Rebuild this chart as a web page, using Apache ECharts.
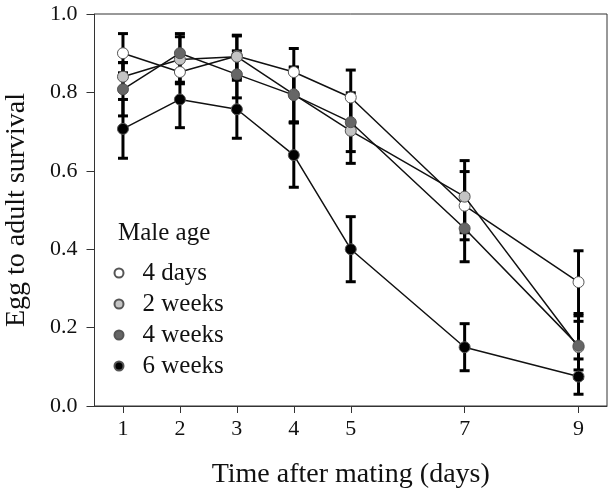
<!DOCTYPE html>
<html>
<head>
<meta charset="utf-8">
<script src="https://cdn.jsdelivr.net/npm/echarts@6/dist/echarts.min.js"></script>
<style>html,body{margin:0;padding:0;background:#fff}#c{width:614px;height:496px}</style>
</head>
<body>
<div id="c"></div>
<script>
var days = [1, 2, 3, 4, 5, 7, 9];
var seriesNames = ['4 days', '2 weeks', '4 weeks', '6 weeks'];
var days4 = [0.900, 0.852, 0.893, 0.852, 0.787, 0.511, 0.316];
var weeks2 = [0.840, 0.884, 0.891, 0.795, 0.702, 0.534, 0.150];
var weeks4 = [0.808, 0.900, 0.846, 0.793, 0.724, 0.453, 0.154];
var weeks6 = [0.707, 0.782, 0.757, 0.640, 0.400, 0.150, 0.075];
var errDays4 = [0.050, 0.030, 0.053, 0.060, 0.070, 0.087, 0.080];
var errWeeks2 = [0.036, 0.058, 0.053, 0.070, 0.083, 0.092, 0.080];
var errWeeks4 = [0.068, 0.050, 0.060, 0.070, 0.075, 0.085, 0.062];
var errWeeks6 = [0.075, 0.072, 0.074, 0.082, 0.083, 0.060, 0.045];
var yTicks = [0, 0.2, 0.4, 0.6, 0.8, 1.0];

var values = [days4, weeks2, weeks4, weeks6];
var errors = [errDays4, errWeeks2, errWeeks4, errWeeks6];
var fills = ['#ffffff', '#c4c4c4', '#666666', '#000000'];
var FONT = '"Liberation Serif", "Times New Roman", serif';

var errData = [];
values.forEach(function (vals, s) {
  vals.forEach(function (v, i) { errData.push([days[i], v, errors[s][i]]); });
});

var series = [{
  type: 'custom',
  name: 'err',
  z: 1,
  clip: false,
  data: errData,
  renderItem: function (params, api) {
    var x = api.value(0), y = api.value(1), e = api.value(2);
    var hi = api.coord([x, y + e]);
    var lo = api.coord([x, y - e]);
    var w = 5;
    var st = { stroke: '#000', lineWidth: 3 };
    return {
      type: 'group',
      children: [
        { type: 'line', shape: { x1: hi[0], y1: hi[1], x2: lo[0], y2: lo[1] }, style: st },
        { type: 'line', shape: { x1: hi[0] - w, y1: hi[1], x2: hi[0] + w, y2: hi[1] }, style: st },
        { type: 'line', shape: { x1: lo[0] - w, y1: lo[1], x2: lo[0] + w, y2: lo[1] }, style: st }
      ]
    };
  }
}];
values.forEach(function (vals, s) {
  series.push({
    type: 'line',
    name: seriesNames[s],
    z: 3 + s,
    data: vals.map(function (v, i) { return [days[i], v]; }),
    symbol: 'circle',
    symbolSize: 11,
    showSymbol: true,
    lineStyle: { color: '#111', width: 1.5 },
    itemStyle: { color: fills[s], borderColor: '#555', borderWidth: 1 },
    emphasis: { disabled: true },
    animation: false
  });
});

var chart = echarts.init(document.getElementById('c'), null, { renderer: 'canvas' });
chart.setOption({
  animation: false,
  backgroundColor: '#fff',
  grid: { left: 94.5, right: 7, top: 14, bottom: 90, show: true, borderColor: '#333', borderWidth: 1, backgroundColor: 'transparent', outerBoundsMode: 'none' },
  title: {
    text: 'Male age', left: 118, top: 221, padding: 0,
    textStyle: { fontFamily: FONT, fontSize: 25, fontWeight: 'normal', color: '#111' }
  },
  legend: {
    data: seriesNames,
    orient: 'vertical',
    left: 113.5, top: 260.5,
    padding: 0,
    icon: 'circle',
    itemWidth: 9, itemHeight: 9,
    itemGap: 6,
    textStyle: { fontFamily: FONT, fontSize: 25, color: '#111', padding: [0, 0, 0, 14] },
    selectedMode: false
  },
  xAxis: {
    type: 'value',
    min: 0.5, max: 9.5, interval: 0.5,
    name: 'Time after mating (days)',
    nameLocation: 'middle',
    nameGap: 55,
    nameTextStyle: { fontFamily: FONT, fontSize: 28, color: '#111' },
    axisLine: { onZero: false, lineStyle: { color: '#333', width: 1 } },
    axisTick: { show: true, length: 7, customValues: days, lineStyle: { color: '#333' } },
    axisLabel: { customValues: days, margin: 12, fontFamily: FONT, fontSize: 22, color: '#111' },
    splitLine: { show: false }
  },
  yAxis: {
    type: 'value',
    min: 0, max: 1, interval: 0.2,
    name: 'Egg to adult survival',
    nameLocation: 'middle',
    nameGap: 64,
    nameRotate: 90,
    nameTextStyle: { fontFamily: FONT, fontSize: 28, color: '#111' },
    axisLine: { show: true, lineStyle: { color: '#333', width: 1 } },
    axisTick: { show: true, length: 8, customValues: yTicks, lineStyle: { color: '#333' } },
    axisLabel: { customValues: yTicks, margin: 17, fontFamily: FONT, fontSize: 22, color: '#111',
      formatter: function (v) { return v.toFixed(1); } },
    splitLine: { show: false }
  },
  series: series
});
</script>
</body>
</html>
